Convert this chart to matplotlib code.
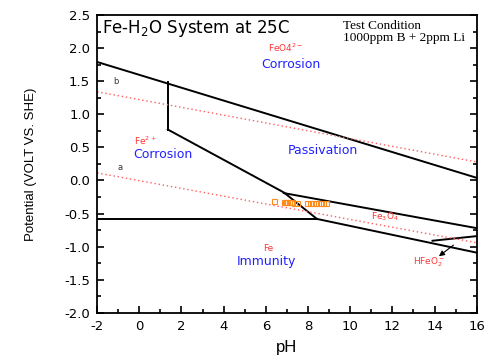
import matplotlib
matplotlib.use("Agg")
import matplotlib.pyplot as plt
from matplotlib.ticker import MultipleLocator, FormatStrFormatter

plt.rcParams["font.family"] = ["DejaVu Sans"]
plt.rcParams["axes.unicode_minus"] = False

# boundary lines of the Fe-H2O diagram (pH, E)
upper_ph = [-2, 16]
upper_e = [1.79, 0.04]
vert_ph = [1.35, 1.35]
vert_e = [1.48, 0.77]
fe2_ph = [1.35, 6.85, 8.42]
fe2_e = [0.77, -0.18, -0.58]
fe_ph = [-2, 8.42]
fe_e = [-0.58, -0.58]
fe3o4_top_ph = [6.85, 16]
fe3o4_top_e = [-0.19, -0.72]
fe3o4_bot_ph = [8.42, 16]
fe3o4_bot_e = [-0.58, -1.09]
hfeo2_ph = [13.9, 16]
hfeo2_e = [-0.91, -0.84]

# water stability lines
o2_ph = [-2, 16]
o2_e = [1.34, 0.28]
h2_ph = [-2, 16]
h2_e = [0.115, -0.94]

# measured points
meas_ph = [6.4, 6.85, 6.9, 6.95, 7.0, 7.1, 7.2, 7.35, 7.5, 7.95, 8.1, 8.25, 8.4, 8.55, 8.7, 8.85]
meas_e = [-0.31, -0.33, -0.32, -0.33, -0.32, -0.33, -0.33, -0.34, -0.34, -0.34, -0.34, -0.34, -0.34, -0.34, -0.34, -0.34]

fig = plt.figure(figsize=(4.88, 3.56), dpi=100)
ax = fig.add_axes([0.199, 0.121, 0.778, 0.837])

lw = 1.4
for xs, ys in [(upper_ph, upper_e), (vert_ph, vert_e), (fe2_ph, fe2_e), (fe_ph, fe_e),
               (fe3o4_top_ph, fe3o4_top_e), (fe3o4_bot_ph, fe3o4_bot_e), (hfeo2_ph, hfeo2_e)]:
    ax.plot(xs, ys, color="black", lw=lw, solid_joinstyle="miter")

ax.plot(o2_ph, o2_e, color="#ff5c5c", lw=1.0, ls=(0, (1, 2)))
ax.plot(h2_ph, h2_e, color="#ff5c5c", lw=1.0, ls=(0, (1, 2)))

ax.plot(meas_ph, meas_e, ls="none", marker="s", ms=3.6, mfc="none", mec="#ff8c1a", mew=0.8)

ax.annotate("", xy=(14.1, -1.17), xytext=(15.0, -0.95),
            arrowprops=dict(arrowstyle="-|>", color="black", lw=0.8, mutation_scale=8))

red = "#ff3333"
blue = "#2222ff"
ax.text(-1.75, 2.46, "Fe-H$_2$O System at 25C", fontsize=12, va="top", ha="left")
ax.text(9.65, 2.43, "Test Condition\n1000ppm B + 2ppm Li", fontsize=9.5, va="top", ha="left",
        family="Liberation Serif", linespacing=1.05)
ax.text(6.1, 2.0, "FeO4$^{2-}$", color=red, fontsize=6.5, ha="left", va="center")
ax.text(5.8, 1.75, "Corrosion", color=blue, fontsize=9, ha="left", va="center")
ax.text(-1.25, 1.49, "b", color="#333333", fontsize=6, ha="left", va="center")
ax.text(-0.25, 0.6, "Fe$^{2+}$", color=red, fontsize=6.5, ha="left", va="center")
ax.text(-0.3, 0.4, "Corrosion", color=blue, fontsize=9, ha="left", va="center")
ax.text(-1.05, 0.2, "a", color="#333333", fontsize=6, ha="left", va="center")
ax.text(7.05, 0.45, "Passivation", color=blue, fontsize=9, ha="left", va="center")
ax.text(11.0, -0.55, "Fe$_3$O$_4$", color=red, fontsize=6.5, ha="left", va="center")
ax.text(5.85, -1.03, "Fe", color=red, fontsize=6.5, ha="left", va="center")
ax.text(4.6, -1.23, "Immunity", color=blue, fontsize=9, ha="left", va="center")
ax.text(13.0, -1.23, "HFeO$_2^-$", color=red, fontsize=6.5, ha="left", va="center")

ax.set_xlim(-2, 16)
ax.set_ylim(-2.0, 2.5)
ax.xaxis.set_major_locator(MultipleLocator(2))
ax.xaxis.set_minor_locator(MultipleLocator(1))
ax.yaxis.set_major_locator(MultipleLocator(0.5))
ax.yaxis.set_minor_locator(MultipleLocator(0.25))
ax.yaxis.set_major_formatter(FormatStrFormatter("%.1f"))
ax.tick_params(which="both", direction="in", right=True, top=False, labelsize=9.5, width=1.2)
ax.tick_params(which="major", length=5, pad=5)
ax.tick_params(which="minor", length=3)
for s in ax.spines.values():
    s.set_linewidth(1.3)

ax.set_xlabel("pH", fontsize=12, family="Liberation Sans", labelpad=5)
ax.set_ylabel("Potential (VOLT VS. SHE)", fontsize=9.5, family="Liberation Sans", labelpad=20)

fig.savefig("out.png", dpi=100)
